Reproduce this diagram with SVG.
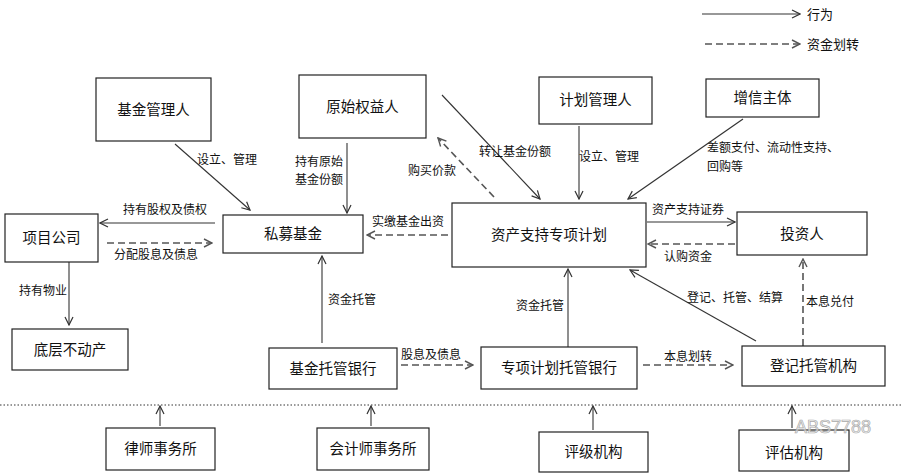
<svg xmlns="http://www.w3.org/2000/svg" width="903" height="476" viewBox="0 0 903 476">
<style>
  .box{fill:#fff;stroke:#222;stroke-width:1.2}
  .nt{font-family:"Noto Sans CJK SC","Noto Sans",sans-serif;font-size:14.5px;fill:#111;text-anchor:middle}
  .lt{font-family:"Noto Sans CJK SC","Noto Sans",sans-serif;font-size:12px;fill:#111}
  .sol{stroke:#333;stroke-width:1.1;fill:none;marker-end:url(#a)}
  .dsh{stroke:#555;stroke-width:1.6;fill:none;stroke-dasharray:7 4;marker-end:url(#b)}
</style>
<defs>
  <marker id="a" viewBox="0 0 10 10" refX="9" refY="5" markerWidth="10" markerHeight="10" orient="auto" markerUnits="userSpaceOnUse">
    <path d="M1,1 L9,5 L1,9" fill="none" stroke="#333" stroke-width="1.2"/>
  </marker>
  <marker id="b" viewBox="0 0 10 10" refX="9" refY="5" markerWidth="10" markerHeight="10" orient="auto" markerUnits="userSpaceOnUse">
    <path d="M1,1 L9,5 L1,9" fill="none" stroke="#555" stroke-width="1.4"/>
  </marker>
</defs>
<rect width="903" height="476" fill="#fff"/>

<g id="legend">
  <line x1="702" y1="14" x2="800" y2="14" class="sol"/>
  <text x="807" y="19" class="lt" style="font-size:13px">行为</text>
  <line x1="705" y1="44" x2="800" y2="44" class="dsh"/>
  <text x="807" y="49" class="lt" style="font-size:13px">资金划转</text>
</g>

<g id="connectors">
  <line x1="175" y1="144" x2="250" y2="210" class="sol"/>
  <text x="197" y="164" class="lt">设立、管理</text>
  <line x1="347" y1="143" x2="347" y2="213" class="sol"/>
  <text x="295" y="166" class="lt">持有原始</text>
  <text x="295" y="184" class="lt">基金份额</text>
  <line x1="494" y1="197" x2="438" y2="138" class="dsh"/>
  <text x="408" y="175" class="lt">购买价款</text>
  <line x1="442" y1="95" x2="540" y2="199" class="sol"/>
  <text x="479" y="156" class="lt">转让基金份额</text>
  <line x1="579" y1="126" x2="579" y2="199" class="sol"/>
  <text x="579" y="161" class="lt">设立、管理</text>
  <line x1="743" y1="119" x2="628" y2="199" class="sol"/>
  <text x="707" y="152" class="lt">差额支付、流动性支持、</text>
  <text x="707" y="171" class="lt">回购等</text>
  <line x1="215" y1="223" x2="100" y2="223" class="sol"/>
  <text x="123" y="214" class="lt">持有股权及债权</text>
  <line x1="107" y1="243" x2="212" y2="243" class="dsh"/>
  <text x="114" y="259" class="lt">分配股息及债息</text>
  <line x1="448" y1="235" x2="367" y2="235" class="dsh"/>
  <text x="372" y="226" class="lt">实缴基金出资</text>
  <line x1="647" y1="222" x2="735" y2="222" class="sol"/>
  <text x="652" y="214" class="lt">资产支持证券</text>
  <line x1="735" y1="244" x2="648" y2="244" class="dsh"/>
  <text x="664" y="261" class="lt">认购资金</text>
  <line x1="69" y1="262" x2="69" y2="325" class="sol"/>
  <text x="19" y="295" class="lt">持有物业</text>
  <line x1="322" y1="343" x2="322" y2="256" class="sol"/>
  <text x="328" y="304" class="lt">资金托管</text>
  <line x1="568" y1="347" x2="568" y2="269" class="sol"/>
  <text x="516" y="310" class="lt">资金托管</text>
  <line x1="756" y1="341" x2="630" y2="270" class="sol"/>
  <text x="687" y="302" class="lt">登记、托管、结算</text>
  <line x1="803" y1="346" x2="803" y2="259" class="dsh"/>
  <text x="806" y="306" class="lt">本息兑付</text>
  <line x1="401" y1="365" x2="473" y2="365" class="dsh"/>
  <text x="401" y="359" class="lt">股息及债息</text>
  <line x1="643" y1="365" x2="733" y2="365" class="dsh"/>
  <text x="664" y="361" class="lt">本息划转</text>
  <line x1="0" y1="405" x2="903" y2="405" stroke="#333" stroke-width="1" stroke-dasharray="1.5 2"/>
  <line x1="160" y1="426" x2="160" y2="406" class="sol"/>
  <line x1="371" y1="426" x2="371" y2="406" class="sol"/>
  <line x1="593" y1="430" x2="593" y2="406" class="sol"/>
  <line x1="792" y1="428" x2="792" y2="406" class="sol"/>
</g>

<g id="fund_mgr"><rect class="box" x="96" y="78" width="115" height="63"/><text class="nt" x="153.5" y="115">基金管理人</text></g>
<g id="originator"><rect class="box" x="299" y="75" width="127" height="63"/><text class="nt" x="362.5" y="112">原始权益人</text></g>
<g id="plan_mgr"><rect class="box" x="539" y="77" width="113" height="47"/><text class="nt" x="595.5" y="105">计划管理人</text></g>
<g id="credit"><rect class="box" x="706" y="79" width="113" height="38"/><text class="nt" x="762.5" y="103">增信主体</text></g>
<g id="project"><rect class="box" x="5" y="214" width="93" height="48"/><text class="nt" x="51.5" y="243">项目公司</text></g>
<g id="pe_fund"><rect class="box" x="223" y="215" width="140" height="38"/><text class="nt" x="293" y="239">私募基金</text></g>
<g id="abs_plan"><rect class="box" x="452" y="203" width="194" height="64"/><text class="nt" x="549" y="240">资产支持专项计划</text></g>
<g id="investor"><rect class="box" x="737" y="212" width="130" height="43"/><text class="nt" x="802" y="238.5">投资人</text></g>
<g id="property"><rect class="box" x="12" y="329" width="116" height="41"/><text class="nt" x="70" y="354.5">底层不动产</text></g>
<g id="fund_bank"><rect class="box" x="269" y="348" width="128" height="41"/><text class="nt" x="333" y="373.5">基金托管银行</text></g>
<g id="plan_bank"><rect class="box" x="481" y="347" width="156" height="42"/><text class="nt" x="559" y="373">专项计划托管银行</text></g>
<g id="registry"><rect class="box" x="742" y="346" width="143" height="40"/><text class="nt" x="813.5" y="371">登记托管机构</text></g>
<g id="law"><rect class="box" x="106" y="428" width="109" height="42"/><text class="nt" x="160.5" y="454">律师事务所</text></g>
<g id="acct"><rect class="box" x="317" y="428" width="112" height="42"/><text class="nt" x="373" y="454">会计师事务所</text></g>
<g id="rating"><rect class="box" x="539" y="432" width="109" height="40"/><text class="nt" x="593.5" y="457">评级机构</text></g>
<g id="valuation"><rect class="box" x="739" y="430" width="110" height="41"/><text class="nt" x="794" y="458">评估机构</text></g>

<text x="795" y="433" font-family="Liberation Sans, sans-serif" font-size="18" fill="#eee" fill-opacity="0.7" stroke="#aaa" stroke-width="0.7">ABS7788</text>
</svg>
